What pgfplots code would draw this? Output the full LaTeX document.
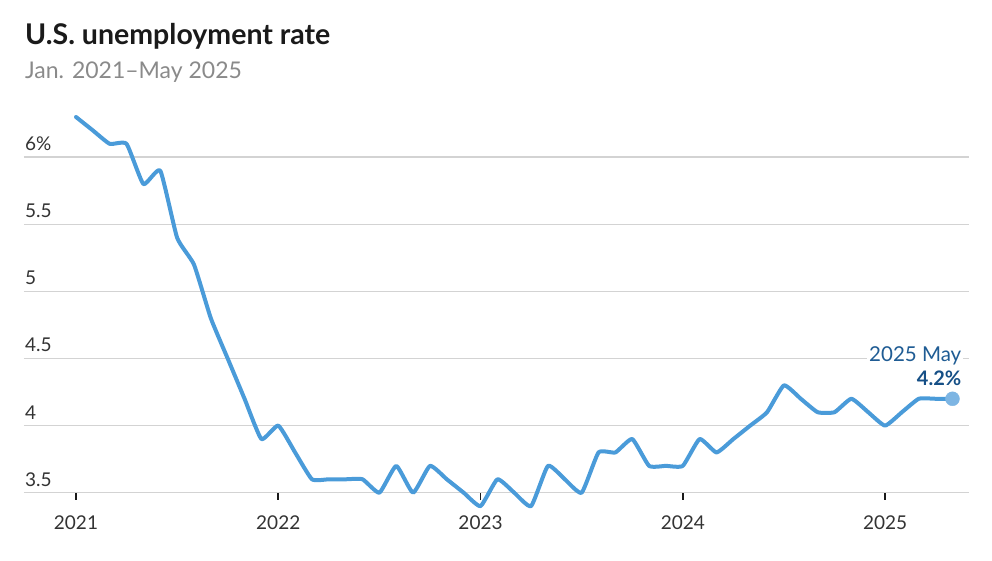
\documentclass[border=0pt]{standalone}
\usepackage{fontspec}
\setmainfont{Lato}
\usepackage{pgfplots}
\pgfplotsset{compat=1.18}
\definecolor{linec}{HTML}{4A9BD9}
\definecolor{dotc}{HTML}{7DB5E3}
\definecolor{gridc}{HTML}{D3D3D3}
\definecolor{annc}{HTML}{1F5C94}
\definecolor{annb}{HTML}{154F86}
\definecolor{titlec}{HTML}{1A1A1A}
\definecolor{subc}{HTML}{8A8A8A}
\definecolor{tickc}{HTML}{333333}
\pgfplotstableread{
m v
0 6.3
1 6.2
2 6.1
3 6.1
4 5.8
5 5.9
6 5.4
7 5.2
8 4.8
9 4.5
10 4.2
11 3.9
12 4.0
13 3.8
14 3.6
15 3.6
16 3.6
17 3.6
18 3.5
19 3.7
20 3.5
21 3.7
22 3.6
23 3.5
24 3.4
25 3.6
26 3.5
27 3.4
28 3.7
29 3.6
30 3.5
31 3.8
32 3.8
33 3.9
34 3.7
35 3.7
36 3.7
37 3.9
38 3.8
39 3.9
40 4.0
41 4.1
42 4.3
43 4.2
44 4.1
45 4.1
46 4.2
47 4.1
48 4.0
49 4.1
50 4.2
51 4.2
52 4.2
}\unemp
\begin{document}
\begin{tikzpicture}
\path[use as bounding box] (-24bp,-68.3bp) rectangle (968bp,492.7bp);
\node[anchor=base west, inner sep=0pt, text=titlec, font=\fontsize{28.5bp}{32bp}\selectfont\bfseries] at (1bp,447.7bp) {U.S. unemployment rate};
\node[anchor=base west, inner sep=0pt, text=subc, font=\fontsize{23bp}{26bp}\selectfont] at (1bp,413.7bp) {Jan. 2021–May 2025};
\begin{axis}[
  at={(0,0)}, anchor=south west,
  scale only axis, width=945bp, height=375.7bp,
  xmin=-3.085, xmax=52.98, ymin=3.5, ymax=6.3,
  clip=false,
  axis x line=bottom, axis y line=left,
  axis line style={draw=none},
  ymajorgrids, grid style={gridc, line width=1.6bp},
  ytick={3.5,4,4.5,5,5.5,6},
  yticklabels={3.5,4,4.5,5,5.5,6\%},
  ytick style={draw=none},
  yticklabel style={anchor=base west, inner sep=0pt, xshift=8bp, yshift=6.6bp, text=tickc, font=\fontsize{19bp}{22bp}\selectfont},
  xtick={0,12,24,36,48},
  xticklabels={2021,2022,2023,2024,2025},
  xtick style={draw=titlec, line width=1.6bp},
  major tick length=7bp, tick align=outside,
  xticklabel style={anchor=base, inner sep=0pt, yshift=-29.5bp, text=tickc, font=\fontsize{19bp}{22bp}\selectfont},
]
\addplot[linec, line width=4bp, smooth, tension=0.28, line join=round, line cap=round] table[x=m, y=v] {\unemp};
\addplot[only marks, mark=*, mark size=7bp, color=dotc, mark options={draw=dotc, fill=dotc}] coordinates {(52,4.2)};
\node[anchor=base east, inner sep=2bp, fill=white, text=annc, font=\fontsize{20.5bp}{23bp}\selectfont] at (axis cs:52,4.2) [xshift=11bp, yshift=37.3bp] {2025 May};
\node[anchor=base east, inner sep=0pt, text=annb, font=\fontsize{20bp}{23bp}\selectfont\bfseries] at (axis cs:52,4.2) [xshift=9bp, yshift=13bp] {4.2\%};
\end{axis}
\end{tikzpicture}
\end{document}
